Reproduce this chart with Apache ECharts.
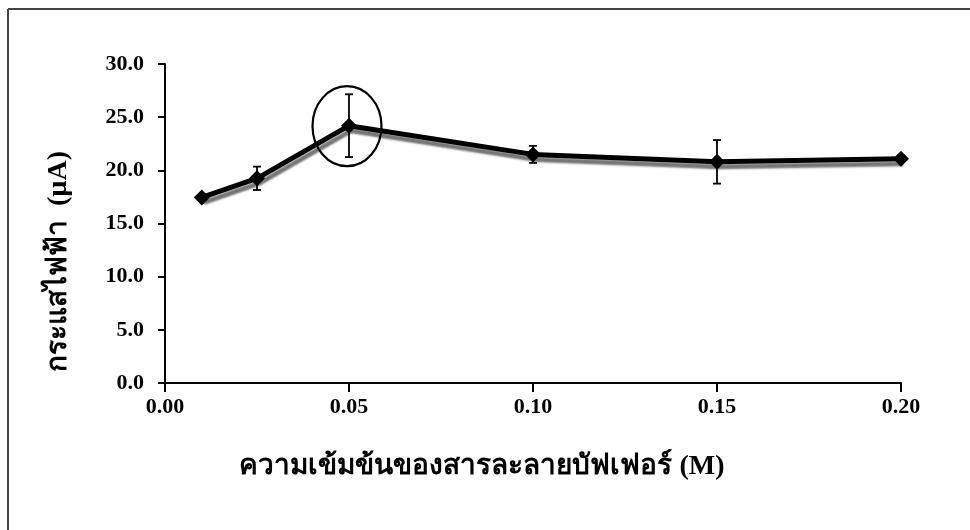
<!DOCTYPE html>
<html>
<head>
<meta charset="utf-8">
<script src="https://cdn.jsdelivr.net/npm/echarts@6/dist/echarts.min.js"></script>
<style>
  html, body { margin: 0; padding: 0; background: #fff; }
  #chart { width: 970px; height: 530px; }
</style>
</head>
<body>
<div id="chart"></div>
<script>
// Buffer concentration (M) and measured current (µA) with standard deviation
const concentrations = [0.01, 0.025, 0.05, 0.10, 0.15, 0.20];
const currents = [17.45, 19.25, 24.2, 21.5, 20.8, 21.1];
const deviations = [0.2, 1.1, 2.95, 0.8, 2.05, 0.3];
// Highlighted optimum condition
const highlightX = 0.05;
const highlightY = 24.2;

const xTitle = 'ความเข้มข้นของสารละลายบัฟเฟอร์ (M)';
const yTitle = 'กระแสไฟฟ้า  (µA)';

const serif = '"Liberation Serif", "Times New Roman", "Noto Sans", "DejaVu Sans", serif';

const lineData = concentrations.map((x, i) => [x, currents[i]]);
const errData = concentrations.map((x, i) => [x, currents[i] - deviations[i], currents[i] + deviations[i]]);

const chart = echarts.init(document.getElementById('chart'), null, { renderer: 'canvas' });

chart.setOption({
  backgroundColor: '#ffffff',
  animation: false,
  grid: { left: 165, right: 69, top: 64, bottom: 147, containLabel: false },
  xAxis: {
    type: 'value',
    min: 0, max: 0.2, interval: 0.05,
    axisLine: { lineStyle: { color: '#000', width: 2 } },
    axisTick: { inside: false, length: 9, lineStyle: { color: '#000', width: 2 } },
    splitLine: { show: false },
    axisLabel: {
      color: '#000', fontFamily: serif, fontWeight: 'bold', fontSize: 22, margin: 13,
      formatter: v => v.toFixed(2)
    },
    name: xTitle,
    nameLocation: 'middle',
    nameGap: 70,
    nameTextStyle: { color: '#000', fontFamily: serif, fontWeight: 'bold', fontSize: 28, padding: [0, 102, 0, 0] }
  },
  yAxis: {
    type: 'value',
    min: 0, max: 30, interval: 5,
    axisLine: { show: true, lineStyle: { color: '#000', width: 2 } },
    axisTick: { show: true, length: 7, lineStyle: { color: '#000', width: 2 } },
    splitLine: { show: false },
    axisLabel: {
      color: '#000', fontFamily: serif, fontWeight: 'bold', fontSize: 22, margin: 21,
      formatter: v => v.toFixed(1)
    },
    name: yTitle,
    nameLocation: 'middle',
    nameGap: 92,
    nameTextStyle: { color: '#000', fontFamily: serif, fontWeight: 'bold', fontSize: 28, padding: [0, 76, 0, 0] }
  },
  graphic: [
    { type: 'line', shape: { x1: 8, y1: 9, x2: 970, y2: 9 }, style: { stroke: '#444', lineWidth: 2 } },
    { type: 'line', shape: { x1: 8, y1: 9, x2: 8, y2: 530 }, style: { stroke: '#444', lineWidth: 2 } }
  ],
  series: [
    {
      type: 'line',
      data: lineData,
      symbol: 'diamond',
      symbolSize: 16,
      itemStyle: { color: '#000' },
      lineStyle: {
        color: '#000', width: 5,
        shadowColor: 'rgba(0,0,0,0.55)', shadowBlur: 2, shadowOffsetX: 2, shadowOffsetY: 5
      },
      z: 3
    },
    {
      type: 'custom',
      data: errData,
      z: 4,
      renderItem: function (params, api) {
        const x = api.value(0);
        const lo = api.coord([x, api.value(1)]);
        const hi = api.coord([x, api.value(2)]);
        const cap = 4;
        const st = { stroke: '#000', lineWidth: 1.8 };
        return {
          type: 'group',
          children: [
            { type: 'line', shape: { x1: lo[0], y1: lo[1], x2: hi[0], y2: hi[1] }, style: st },
            { type: 'line', shape: { x1: lo[0] - cap, y1: lo[1], x2: lo[0] + cap, y2: lo[1] }, style: st },
            { type: 'line', shape: { x1: hi[0] - cap, y1: hi[1], x2: hi[0] + cap, y2: hi[1] }, style: st }
          ]
        };
      }
    },
    {
      type: 'custom',
      data: [[highlightX, highlightY]],
      z: 5,
      renderItem: function (params, api) {
        const c = api.coord([api.value(0), api.value(1)]);
        return {
          type: 'ellipse',
          shape: { cx: c[0] - 2, cy: c[1] + 0.5, rx: 34.5, ry: 40 },
          style: { fill: 'none', stroke: '#000', lineWidth: 2.2 }
        };
      }
    }
  ]
});
</script>
</body>
</html>
